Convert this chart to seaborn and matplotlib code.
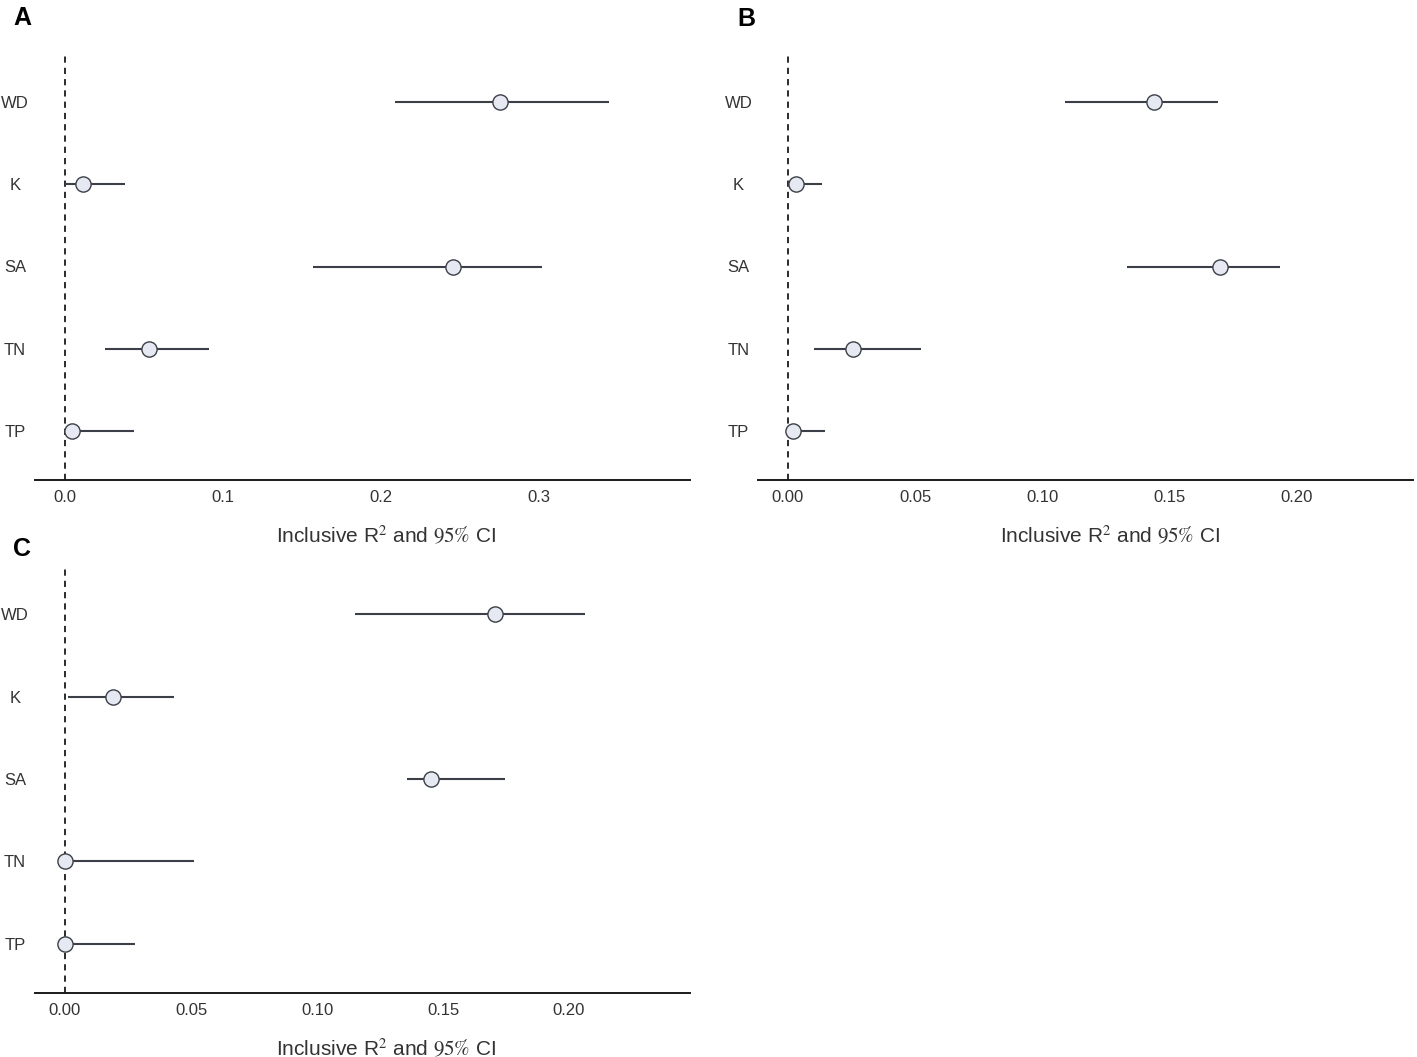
import numpy as np
import pandas as pd
import matplotlib
matplotlib.use("Agg")
import matplotlib.pyplot as plt
import seaborn as sns

sns.set_theme(style="white")
plt.rcParams['font.family'] = ['Liberation Sans', 'DejaVu Sans']
plt.rcParams['mathtext.fontset'] = 'stix'

variables = ["WD", "K", "SA", "TN", "TP"]

# Panel A
a_r2 = [0.275, 0.0116, 0.2453, 0.0530, 0.0048]
a_lo = [0.2086, 0.0, 0.1573, 0.0251, 0.0]
a_hi = [0.3440, 0.0383, 0.3017, 0.0911, 0.0437]
a_ticks = [0.0, 0.1, 0.2, 0.3]
a_ticklabels = ["0.0", "0.1", "0.2", "0.3"]

# Panel B
b_r2 = [0.1439, 0.0033, 0.1702, 0.0256, 0.0021]
b_lo = [0.1090, 0.0, 0.1335, 0.0102, 0.0]
b_hi = [0.1693, 0.0133, 0.1935, 0.0525, 0.0144]
b_ticks = [0.00, 0.05, 0.10, 0.15, 0.20]
b_ticklabels = ["0.00", "0.05", "0.10", "0.15", "0.20"]

# Panel C
c_r2 = [0.1706, 0.0191, 0.1453, 0.0, 0.0]
c_lo = [0.1149, 0.0012, 0.1359, 0.0, 0.0]
c_hi = [0.2063, 0.0431, 0.1746, 0.0511, 0.0276]
c_ticks = [0.00, 0.05, 0.10, 0.15, 0.20]
c_ticklabels = ["0.00", "0.05", "0.10", "0.15", "0.20"]

panel_letters = ["A", "B", "C"]
xlabel = r"Inclusive R$^2$ and $\mathrm{95\%}$ CI"

W, H = 1417, 1057
fig = plt.figure(figsize=(W / 100, H / 100), dpi=100)

def frac_box(l, r, t, b):
    return [l / W, 1 - b / H, (r - l) / W, (b - t) / H]

line_col = "#3a3f48"
face_col = "#e6e9f1"

panels = [
    (frac_box(34.5, 690, 53, 480), a_r2, a_lo, a_hi, a_ticks, a_ticklabels, (-0.0192, 0.3955), (13, 6)),
    (frac_box(758, 1413, 53, 480), b_r2, b_lo, b_hi, b_ticks, b_ticklabels, (-0.0118, 0.2460), (737, 7)),
    (frac_box(34.5, 690, 565, 993), c_r2, c_lo, c_hi, c_ticks, c_ticklabels, (-0.0121, 0.2480), (13, 537)),
]

for i, (box, r2, lo, hi, ticks, tlabels, xlim, lpos) in enumerate(panels):
    ax = fig.add_axes(box)
    df = pd.DataFrame({"var": variables, "r2": r2, "lo": lo, "hi": hi})
    df["y"] = np.arange(len(variables))
    ax.axvline(0, color="#2b2b2b", lw=1.4, ls=(0, (3.2, 2.6)), zorder=1)
    ax.hlines(df["y"], df["lo"], df["hi"], color=line_col, lw=1.5, zorder=2)
    sns.scatterplot(data=df, x="r2", y="y", ax=ax, s=120, color=face_col,
                    edgecolor=line_col, linewidth=1.0, zorder=3, legend=False)
    ax.set_xlim(*xlim)
    ax.set_ylim(len(variables) - 1 + 0.6, -0.6)
    ax.set_yticks(df["y"])
    ax.set_yticklabels(variables)
    ax.set_xticks(ticks)
    ax.set_xticklabels(tlabels)
    for s in ["top", "right", "left"]:
        ax.spines[s].set_visible(False)
    ax.spines["bottom"].set_color("#1a1a1a")
    ax.spines["bottom"].set_linewidth(1.4)
    ax.tick_params(axis="y", length=0, pad=14, labelsize=12, labelcolor="#333333")
    for t in ax.get_yticklabels():
        t.set_ha("center")
    ax.tick_params(axis="x", length=0, pad=7, labelsize=12, labelcolor="#333333")
    ax.set_ylabel("")
    ax.set_xlabel(xlabel, fontsize=15, color="#333333")
    ax.xaxis.set_label_coords(0.537, -0.129)
    ax.xaxis.label.set_va("center")
    ax.grid(False)
    fig.text(lpos[0] / W, 1 - lpos[1] / H, panel_letters[i], fontsize=18,
             fontweight="bold", ha="left", va="top", color="black")

fig.savefig("out.png", dpi=100, facecolor="white")
